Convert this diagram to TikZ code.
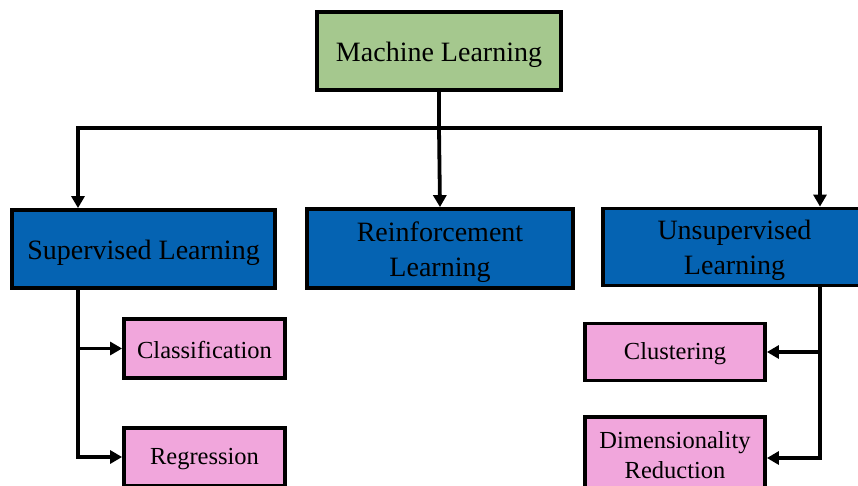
\documentclass[tikz,border=0pt]{standalone}
\usepackage{fontspec}
\setmainfont{Liberation Serif}
\usetikzlibrary{arrows.meta}
\definecolor{mlgreen}{RGB}{165,200,142}
\definecolor{mlblue}{RGB}{5,99,178}
\definecolor{mlpink}{RGB}{241,166,220}
\newcommand{\bigtop}{\rule{0pt}{27pt}}
\newcommand{\smalltop}{\rule{0pt}{21pt}}
\tikzset{
  box/.style={draw=black, line width=3.8pt, rectangle, inner sep=0pt, align=center},
  topbox/.style={box, fill=mlgreen, font=\fontsize{28}{35}\selectfont},
  bluebox/.style={box, fill=mlblue, font=\fontsize{28}{35}\selectfont},
  pinkbox/.style={box, fill=mlpink, font=\fontsize{24.5}{30}\selectfont},
  link/.style={draw=black, line width=3.8pt},
  arr/.style={link, -{Triangle[length=12pt,width=13pt]}},
}
\begin{document}
\begin{tikzpicture}[x=1pt,y=-1pt]
\useasboundingbox (0,0) rectangle (858,485);
\fill[white] (0,0) rectangle (858,485);
\clip (0,0) rectangle (858,485);

\node[topbox, minimum width=244, minimum height=78] (ml) at (439,51) {\bigtop Machine Learning};
\node[bluebox, minimum width=263, minimum height=78] (sup) at (143.5,249) {\bigtop Supervised Learning};
\node[bluebox, minimum width=266, minimum height=79] (rl) at (440,248.5) {\bigtop Reinforcement\\Learning};
\node[bluebox, minimum width=263, minimum height=77] (uns) at (734.5,247) {\bigtop Unsupervised\\Learning};

\node[pinkbox, minimum width=161, minimum height=59] (cls) at (204.5,348.5) {\smalltop Classification};
\node[pinkbox, minimum width=161, minimum height=58] (reg) at (204.5,457) {\smalltop Regression};
\node[pinkbox, minimum width=180, minimum height=57] (clu) at (675,352) {\smalltop Clustering};
\node[pinkbox, minimum width=180, minimum height=76] (dim) at (675,455) {Dimensionality\\Reduction};

\coordinate (jl) at (78,128);
\coordinate (jr) at (820,128);

\draw[link] (ml.south) -- (ml.south |- jl);
\draw[link, line cap=rect] (jl) -- (jr);
\draw[arr] (ml.south |- jl) -- (rl.north);
\draw[arr] (jl) -- (jl |- sup.north);
\draw[arr] (jr) -- (jr |- uns.north);

\draw[arr] (jl |- sup.south) |- (cls.west);
\draw[arr] (jl |- sup.south) |- (reg.west);
\draw[arr] (jr |- uns.south) |- (clu.east);
\draw[arr] (jr |- uns.south) |- ([yshift=-3pt]dim.east);
\end{tikzpicture}
\end{document}
